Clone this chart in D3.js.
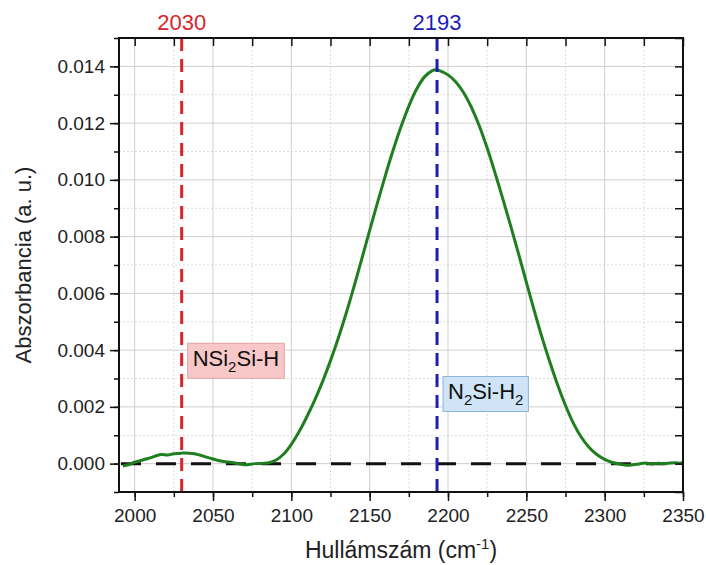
<!DOCTYPE html>
<html>
<head>
<meta charset="utf-8">
<script src="https://cdn.jsdelivr.net/npm/d3@7"></script>
<style>
  body { margin: 0; background: #fff; }
  svg { font-family: "Liberation Sans", Arial, sans-serif; }
  .tick text { fill: #222; }
</style>
</head>
<body>
<svg width="706" height="565"></svg>
<script>
const width = 706
const height = 565
const margins = {top: 38, bottom: 73, left: 119, right: 23}

// spectrum
const wavenumber = [1992.5, 1996, 2000, 2008, 2017, 2021, 2025, 2030, 2038, 2047, 2055, 2062, 2066, 2070, 2077,
    2085, 2090, 2095, 2100, 2105, 2110, 2115, 2120, 2125, 2130, 2135, 2140, 2145, 2150, 2155, 2160, 2165, 2170,
    2175, 2180, 2185, 2190, 2192, 2195, 2200, 2205, 2210, 2215, 2220, 2225, 2230, 2235, 2240, 2245, 2250, 2255,
    2260, 2265, 2270, 2275, 2280, 2285, 2290, 2295, 2300, 2305, 2310, 2314, 2318, 2322, 2326, 2330, 2334, 2338,
    2342, 2345, 2348, 2350]
const absorbance = [-0.00008, -0.00004, 0.00005, 0.00017, 0.00032, 0.00030, 0.00035, 0.00037, 0.00035, 0.00021,
    0.00009, 0.00004, 0.00000, -0.00004, 0.00000,
    0.00002, 0.00012, 0.00033, 0.00068, 0.00113, 0.00166, 0.00225, 0.00290, 0.00363, 0.00443, 0.00530, 0.00624,
    0.00722, 0.00822, 0.00920, 0.01015, 0.01105, 0.01187, 0.01260, 0.01320, 0.01363, 0.01385, 0.01388, 0.01384,
    0.01370, 0.01345, 0.01307, 0.01255, 0.01190, 0.01112, 0.01025, 0.00933, 0.00838, 0.00740, 0.00640, 0.00540,
    0.00445, 0.00358, 0.00277, 0.00205, 0.00143, 0.00094, 0.00058, 0.00032, 0.00015, 0.00004, -0.00002, -0.00006,
    -0.00004, -0.00001, 0.00002, -0.00001, 0.00001, 0.00000, 0.00002, 0.00003, 0.00001, 0.00004]

// marker lines and labels
const peaks = [
    {pos: 2030, name: "2030", color: "#d7262b", base: "NSi", sub: "2", rest: "Si-H", sub2: "", fill: "#f8c8c8", stroke: "#e4a0a0", labelY: 0.00343},
    {pos: 2193, name: "2193", color: "#1d1db8", base: "N", sub: "2", rest: "Si-H", sub2: "2", fill: "#cfe5f7", stroke: "#8fb4d6", labelY: 0.00226}
]

const xTicks = [2000, 2050, 2100, 2150, 2200, 2250, 2300, 2350]
const xMinor = d3.range(2000, 2351, 25)
const yTicks = [0, 0.002, 0.004, 0.006, 0.008, 0.010, 0.012, 0.014]
const yMinor = d3.range(-0.001, 0.0151, 0.001)

const svg = d3.select("svg")

const xScale = d3.scaleLinear().domain([1990, 2350]).range([margins.left, width - margins.right])
const yScale = d3.scaleLinear().domain([-0.001, 0.015]).range([height - margins.bottom, margins.top])

const x0 = margins.left, x1 = width - margins.right
const y0 = margins.top, y1 = height - margins.bottom

// minor grid (dotted)
svg.append("g")
    .selectAll("line")
    .data(xMinor.filter(d => !xTicks.includes(d)))
    .join("line")
    .attr("x1", d => xScale(d)).attr("x2", d => xScale(d))
    .attr("y1", y0).attr("y2", y1)
    .attr("stroke", "#dcdcdc").attr("stroke-dasharray", "2,2")
svg.append("g")
    .selectAll("line")
    .data(yMinor.filter((d, i) => i % 2 === 0))
    .join("line")
    .attr("x1", x0).attr("x2", x1)
    .attr("y1", d => yScale(d)).attr("y2", d => yScale(d))
    .attr("stroke", "#dcdcdc").attr("stroke-dasharray", "2,2")

// major grid
svg.append("g")
    .selectAll("line")
    .data(xTicks)
    .join("line")
    .attr("x1", d => xScale(d)).attr("x2", d => xScale(d))
    .attr("y1", y0).attr("y2", y1)
    .attr("stroke", "#cfcfcf")
svg.append("g")
    .selectAll("line")
    .data(yTicks)
    .join("line")
    .attr("x1", x0).attr("x2", x1)
    .attr("y1", d => yScale(d)).attr("y2", d => yScale(d))
    .attr("stroke", "#cfcfcf")

// zero baseline
svg.append("line")
    .attr("x1", x0 + 2).attr("x2", x1)
    .attr("y1", yScale(0)).attr("y2", yScale(0))
    .attr("stroke", "#111").attr("stroke-width", 3)
    .attr("stroke-dasharray", "20,15")

// spectrum
const line = d3.line()
    .x((d, i) => xScale(wavenumber[i]))
    .y(d => yScale(d))
    .curve(d3.curveCatmullRom.alpha(0.5))
svg.append("path")
    .datum(absorbance)
    .attr("d", line)
    .attr("fill", "none")
    .attr("stroke", "#1f7f1f")
    .attr("stroke-width", 3)

// vertical markers
peaks.forEach(p => {
    svg.append("line")
        .attr("x1", xScale(p.pos)).attr("x2", xScale(p.pos))
        .attr("y1", y0).attr("y2", y1)
        .attr("stroke", p.color).attr("stroke-width", 3)
        .attr("stroke-dasharray", "13,8")
    svg.append("text")
        .attr("x", xScale(p.pos)).attr("y", 30)
        .attr("text-anchor", "middle")
        .attr("font-size", 22)
        .attr("fill", p.color)
        .text(p.name)

    // label box
    const g = svg.append("g")
    const rect = g.append("rect")
    const t = g.append("text")
        .attr("x", xScale(p.pos) + 11)
        .attr("y", yScale(p.labelY))
        .attr("font-size", 22)
        .attr("fill", "#111")
    t.append("tspan").text(p.base)
    t.append("tspan").attr("font-size", 15).attr("dy", 6).text(p.sub)
    t.append("tspan").attr("dy", -6).text(p.rest)
    if (p.sub2) t.append("tspan").attr("font-size", 15).attr("dy", 6).text(p.sub2)
    const bb = t.node().getBBox()
    rect.attr("x", bb.x - 5).attr("y", yScale(p.labelY) - 23)
        .attr("width", bb.width + 10).attr("height", 35)
        .attr("fill", p.fill).attr("stroke", p.stroke)
})

// axes
svg.append("g")
    .attr("transform", `translate(0,${y1})`)
    .call(d3.axisBottom(xScale).tickValues(xMinor).tickSize(5).tickFormat(""))
svg.append("g")
    .attr("transform", `translate(0,${y1})`)
    .call(d3.axisBottom(xScale).tickValues(xTicks).tickSize(9).tickPadding(8).tickFormat(d3.format("d")))
svg.append("g")
    .attr("transform", `translate(${x0},0)`)
    .call(d3.axisLeft(yScale).tickValues(yMinor).tickSize(5).tickFormat(""))
svg.append("g")
    .attr("transform", `translate(${x0},0)`)
    .call(d3.axisLeft(yScale).tickValues(yTicks).tickSize(9).tickPadding(5).tickFormat(d3.format(".3f")))
svg.append("g")
    .attr("transform", `translate(0,${y0})`)
    .call(d3.axisBottom(xScale).tickValues(xMinor).tickSize(8).tickFormat(""))
svg.append("g")
    .attr("transform", `translate(${x1},0)`)
    .call(d3.axisLeft(yScale).tickValues(yMinor).tickSize(8).tickFormat(""))

svg.selectAll(".domain").remove()
svg.selectAll(".tick line").attr("stroke", "#111").attr("stroke-width", 1.5)
svg.selectAll(".tick text").attr("font-size", 19).attr("font-family", "Liberation Sans, Arial, sans-serif")

// frame
svg.append("rect")
    .attr("x", x0).attr("y", y0)
    .attr("width", x1 - x0).attr("height", y1 - y0)
    .attr("fill", "none").attr("stroke", "#111").attr("stroke-width", 2)

// axis titles
const xt = svg.append("text")
    .attr("x", (x0 + x1) / 2).attr("y", 558)
    .attr("text-anchor", "middle")
    .attr("font-size", 23).attr("fill", "#222")
xt.append("tspan").text("Hullámszám (cm")
xt.append("tspan").attr("font-size", 15).attr("dy", -9).text("-1")
xt.append("tspan").attr("dy", 9).text(")")

svg.append("text")
    .attr("transform", `translate(31,${(y0 + y1) / 2}) rotate(-90)`)
    .attr("text-anchor", "middle")
    .attr("font-size", 22).attr("fill", "#222")
    .text("Abszorbancia (a. u.)")
</script>
</body>
</html>
